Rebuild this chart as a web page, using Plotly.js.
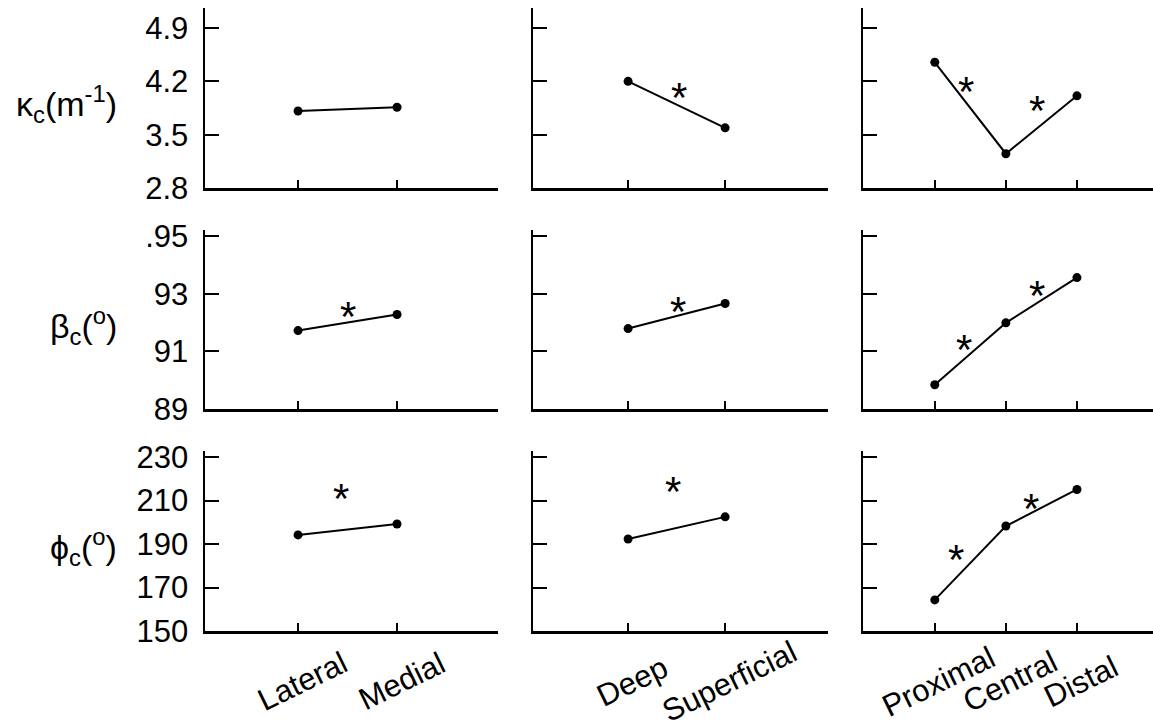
<!DOCTYPE html>
<html>
<head>
<meta charset="utf-8">
<script src="https://cdn.plot.ly/plotly-3.0.1.min.js"></script>
<style>html,body{margin:0;padding:0;background:#fff;}#chart{width:1153px;height:724px;}</style>
</head>
<body>
<div id="chart"></div>
<script>
// ---- data ----
const catsCol1 = ['Lateral', 'Medial'];
const catsCol2 = ['Deep', 'Superficial'];
const catsCol3 = ['Proximal', 'Central', 'Distal'];

const kappaCol1 = [3.81, 3.86];
const kappaCol2 = [4.20, 3.59];
const kappaCol3 = [4.45, 3.25, 4.01];

const betaCol1 = [91.72, 92.28];
const betaCol2 = [91.79, 92.66];
const betaCol3 = [89.84, 91.99, 93.56];

const phiCol1 = [194.2, 199.2];
const phiCol2 = [192.3, 202.5];
const phiCol3 = [164.3, 198.3, 215.1];

const kappaTicks = [2.8, 3.5, 4.2, 4.9];
const kappaTickText = ['2.8', '3.5', '4.2', '4.9'];
const betaTicks = [89, 91, 93, 95];
const betaTickText = ['89', '91', '93', '.95'];
const phiTicks = [150, 170, 190, 210, 230];
const phiTickText = ['150', '170', '190', '210', '230'];

const rowLabels = ['κ<sub>c</sub>(m<sup>-1</sup>)', 'β<sub>c</sub>(<sup>o</sup>)', 'ϕ<sub>c</sub>(<sup>o</sup>)'];

// significance markers: [row, col, segment start index]
const sigMarks = [
  [0, 1, 0], [0, 2, 0], [0, 2, 1],
  [1, 0, 0], [1, 1, 0], [1, 2, 0], [1, 2, 1],
  [2, 0, 0], [2, 1, 0], [2, 2, 0], [2, 2, 1]
];

// ---- layout geometry / styling ----
const W = 1153, H = 724;
const colPx = [[205, 498], [533, 828], [863, 1153]];
const rowPx = [[8, 188], [230, 409], [451, 631]];
const xRanges = [[-0.94, 2.02], [-0.98, 2.06], [-1.01, 3.07]];
const yRanges = [[2.8, 5.1625], [89, 95.21], [150, 232.8]];
// pixel nudges for each asterisk (same order as sigMarks)
const markNudge = [
  [2, 7], [-4, 16], [-4, 14],
  [0, 6], [1, 5], [-6, 4], [-4, 5],
  [-7, 31], [-4, 36], [-14, 3], [-10, -1]
];

const cats = [catsCol1, catsCol2, catsCol3];
const values = [
  [kappaCol1, kappaCol2, kappaCol3],
  [betaCol1, betaCol2, betaCol3],
  [phiCol1, phiCol2, phiCol3]
];
const yTicks = [[kappaTicks, kappaTickText], [betaTicks, betaTickText], [phiTicks, phiTickText]];

const FONT = 'Liberation Sans, Arial, sans-serif';
const traces = [];
const layout = {
  width: W, height: H,
  margin: {l: 0, r: 0, t: 0, b: 0},
  paper_bgcolor: '#fff', plot_bgcolor: 'rgba(0,0,0,0)',
  showlegend: false,
  font: {family: FONT, color: '#000', size: 30},
  annotations: []
};

for (let r = 0; r < 3; r++) {
  for (let c = 0; c < 3; c++) {
    const idx = r * 3 + c + 1;
    const xa = 'xaxis' + (idx === 1 ? '' : idx);
    const ya = 'yaxis' + (idx === 1 ? '' : idx);
    const xr = 'x' + (idx === 1 ? '' : idx);
    const yr = 'y' + (idx === 1 ? '' : idx);
    traces.push({
      type: 'scatter', mode: 'lines+markers',
      x: cats[c], y: values[r][c],
      xaxis: xr, yaxis: yr,
      line: {color: '#000', width: 2},
      marker: {color: '#000', size: 9},
      hoverinfo: 'skip', cliponaxis: false
    });
    layout[xa] = {
      domain: [colPx[c][0] / W, colPx[c][1] / W],
      anchor: yr, type: 'category',
      categoryorder: 'array', categoryarray: cats[c],
      range: xRanges[c],
      showline: true, linecolor: '#000', linewidth: 2.5,
      ticks: 'inside', ticklen: 8, tickwidth: 2, tickcolor: '#000',
      showticklabels: false, showgrid: false, zeroline: false, fixedrange: true
    };
    layout[ya] = {
      domain: [1 - rowPx[r][1] / H, 1 - rowPx[r][0] / H],
      anchor: xr, range: yRanges[r],
      tickmode: 'array', tickvals: yTicks[r][0], ticktext: yTicks[r][1],
      showline: true, linecolor: '#000', linewidth: 2.5,
      ticks: 'inside', ticklen: 14, tickwidth: 2, tickcolor: '#000',
      showticklabels: c === 0, ticklabelstandoff: 8,
      tickfont: {family: FONT, size: 31, color: '#000'},
      showgrid: false, zeroline: false, fixedrange: true
    };
  }
  // row labels
  layout.annotations.push({
    xref: 'paper', yref: 'paper',
    x: 119 / W, xanchor: 'right',
    y: 1 - ((rowPx[r][0] + rowPx[r][1]) / 2 + 6) / H, yanchor: 'middle',
    text: rowLabels[r], showarrow: false,
    font: {family: FONT, size: 34, color: '#000'}
  });
}

// x tick labels (centered, rotated) under bottom row
for (let c = 0; c < 3; c++) {
  const idx = 6 + c + 1;
  cats[c].forEach(function (name) {
    layout.annotations.push({
      xref: 'x' + idx, yref: 'paper',
      x: name, y: 1 - rowPx[2][1] / H,
      xanchor: 'center', yanchor: 'middle',
      xshift: 4, yshift: -50,
      textangle: -26, text: name, showarrow: false,
      font: {family: FONT, size: 31, color: '#000'}
    });
  });
}

// asterisks at segment midpoints
sigMarks.forEach(function (m, k) {
  const r = m[0], c = m[1], i = m[2];
  const idx = r * 3 + c + 1;
  const v = values[r][c];
  layout.annotations.push({
    xref: 'x' + (idx === 1 ? '' : idx), yref: 'y' + (idx === 1 ? '' : idx),
    x: i + 0.5, y: (v[i] + v[i + 1]) / 2,
    xanchor: 'center', yanchor: 'middle',
    xshift: markNudge[k][0], yshift: markNudge[k][1],
    text: '*', showarrow: false,
    font: {family: FONT, size: 42, color: '#000'}
  });
});

Plotly.newPlot('chart', traces, layout, {displayModeBar: false, staticPlot: true});
</script>
</body>
</html>
